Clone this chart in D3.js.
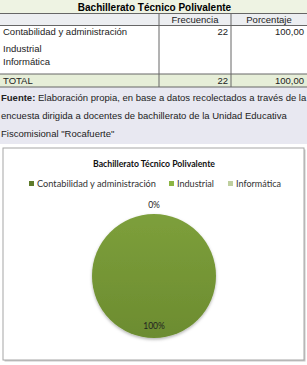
<!DOCTYPE html>
<html>
<head>
<meta charset="utf-8">
<script src="https://cdn.jsdelivr.net/npm/d3@7"></script>
<style>
  body { margin: 0; background: #fff; }
  svg { display: block; }
</style>
</head>
<body>
<svg id="chart"></svg>
<script>
const categories = ["Contabilidad y administración", "Industrial", "Informática"];
const frecuencia = [22, null, null];
const porcentaje = ["100,00", null, null];
const totalFrecuencia = 22;
const totalPorcentaje = "100,00";
const pieValues = [22, 0, 0];
const fuenteLines = [
    "Elaboración propia, en base a datos recolectados a través de la",
    "encuesta dirigida a docentes de bachillerato de la Unidad Educativa",
    "Fiscomisional \"Rocafuerte\""
];

const svgWidth = 307;
const svgHeight = 365;

const svg = d3.select("#chart")
    .attr("width", svgWidth)
    .attr("height", svgHeight)
    .style("font-family", "Liberation Sans, Arial, sans-serif");

// ---- table ----
const colX = [0, 159, 231, 307];
const lineColor = "#666";
const fs = "9.5px";
const t = svg.append("g");

t.append("rect").attr("x", 0).attr("y", 0).attr("width", svgWidth).attr("height", 13.5).attr("fill", "#eef3e3");
t.append("rect").attr("x", 0).attr("y", 13.5).attr("width", svgWidth).attr("height", 12).attr("fill", "#eceef1");
t.append("rect").attr("x", 0).attr("y", 74).attr("width", svgWidth).attr("height", 13).attr("fill", "#e6eed8");
t.append("rect").attr("x", 0).attr("y", 87).attr("width", svgWidth).attr("height", 57).attr("fill", "#e8e8f1");

t.append("text")
    .attr("x", svgWidth / 2 + 1).attr("y", 10.5)
    .attr("text-anchor", "middle")
    .style("font-size", "10px").style("font-weight", "bold")
    .text("Bachillerato Técnico Polivalente");

[13.5, 25.5, 74, 87].forEach(y => {
    t.append("line").attr("x1", 0).attr("x2", svgWidth).attr("y1", y).attr("y2", y)
        .attr("stroke", lineColor).attr("stroke-width", 1);
});
[colX[1], colX[2]].forEach(x => {
    t.append("line").attr("x1", x).attr("x2", x).attr("y1", 13.5).attr("y2", 87)
        .attr("stroke", lineColor).attr("stroke-width", 1);
});

t.append("text").attr("x", (colX[1] + colX[2]) / 2).attr("y", 23).attr("text-anchor", "middle")
    .style("font-size", fs).attr("fill", "#222").text("Frecuencia");
t.append("text").attr("x", (colX[2] + colX[3]) / 2).attr("y", 23).attr("text-anchor", "middle")
    .style("font-size", fs).attr("fill", "#222").text("Porcentaje");

const rowY = [35, 52, 65];
categories.forEach((c, i) => {
    t.append("text").attr("x", 3).attr("y", rowY[i]).style("font-size", fs).attr("fill", "#222").text(c);
    if (frecuencia[i] != null) {
        t.append("text").attr("x", colX[2] - 3).attr("y", rowY[i]).attr("text-anchor", "end")
            .style("font-size", fs).attr("fill", "#222").text(frecuencia[i]);
    }
    if (porcentaje[i] != null) {
        t.append("text").attr("x", colX[3] - 3).attr("y", rowY[i]).attr("text-anchor", "end")
            .style("font-size", fs).attr("fill", "#222").text(porcentaje[i]);
    }
});

t.append("text").attr("x", 3).attr("y", 84).style("font-size", fs).attr("fill", "#222").text("TOTAL");
t.append("text").attr("x", colX[2] - 3).attr("y", 84).attr("text-anchor", "end")
    .style("font-size", fs).attr("fill", "#222").text(totalFrecuencia);
t.append("text").attr("x", colX[3] - 3).attr("y", 84).attr("text-anchor", "end")
    .style("font-size", fs).attr("fill", "#222").text(totalPorcentaje);

const fuente = t.append("text").attr("x", 1).attr("y", 101).style("font-size", fs).attr("fill", "#222");
fuente.append("tspan").style("font-weight", "bold").text("Fuente: ");
fuente.append("tspan").text(fuenteLines[0]);
fuenteLines.slice(1).forEach((l, i) => {
    t.append("text").attr("x", 1).attr("y", 119 + i * 18).style("font-size", fs).attr("fill", "#222").text(l);
});

// ---- chart box ----
const box = { x: 3, y: 148, w: 301, h: 212 };
svg.append("rect").attr("x", box.x + 1.5).attr("y", box.y + 1.5).attr("width", box.w).attr("height", box.h)
    .attr("fill", "#c8c8c8");
svg.append("rect").attr("x", box.x).attr("y", box.y).attr("width", box.w).attr("height", box.h)
    .attr("fill", "#fff").attr("stroke", "#a6a6a6").attr("stroke-width", 1);

const chartFont = "Lato, Open Sans, sans-serif";
svg.append("text")
    .attr("x", 154).attr("y", 167)
    .attr("text-anchor", "middle")
    .attr("textLength", 122).attr("lengthAdjust", "spacingAndGlyphs")
    .style("font-family", chartFont)
    .style("font-size", "10px").style("font-weight", "bold")
    .attr("fill", "#111")
    .text("Bachillerato Técnico Polivalente");

const colorScale = d3.scaleOrdinal().domain(categories).range(["#5f7b2b", "#8cb543", "#bfcf9f"]);

const legendX = [29, 169, 228];
const legendW = [119, 37, 45];
const legend = svg.selectAll(".legend")
    .data(categories)
    .enter().append("g")
    .attr("class", "legend")
    .attr("transform", (d, i) => `translate(${legendX[i]},184)`);
legend.append("rect").attr("x", 0).attr("y", -3).attr("width", 5).attr("height", 5).attr("fill", colorScale);
legend.append("text").attr("x", 8).attr("y", 0).attr("dy", "0.35em")
    .attr("textLength", (d, i) => legendW[i]).attr("lengthAdjust", "spacingAndGlyphs")
    .style("font-family", chartFont).style("font-size", "9px").attr("fill", "#333")
    .text(d => d);

// ---- pie ----
const cx = 154, cy = 276, r = 62;
const defs = svg.append("defs");
const grad = defs.append("linearGradient").attr("id", "pieGrad").attr("x1", 0).attr("y1", 0).attr("x2", 0).attr("y2", 1);
grad.append("stop").attr("offset", "0%").attr("stop-color", "#7d9f3b");
grad.append("stop").attr("offset", "100%").attr("stop-color", "#6c8c30");
const shadow = defs.append("filter").attr("id", "pieShadow").attr("x", "-20%").attr("y", "-20%").attr("width", "140%").attr("height", "140%");
shadow.append("feDropShadow").attr("dx", 0).attr("dy", 1.5).attr("stdDeviation", 1.5).attr("flood-color", "#000").attr("flood-opacity", 0.3);

const pie = d3.pie().sort(null).value(d => d);
const arc = d3.arc().innerRadius(0).outerRadius(r);
const arcs = pie(pieValues);
const total = d3.sum(pieValues);

const pg = svg.append("g").attr("transform", `translate(${cx},${cy})`);
pg.selectAll("path")
    .data(arcs.filter(d => d.value > 0))
    .enter().append("path")
    .attr("d", arc)
    .attr("fill", "url(#pieGrad)")
    .attr("filter", "url(#pieShadow)");

// 100% label inside; the zero slices share one label spot above the top
const seen = new Set();
arcs.forEach(d => {
    const pct = Math.round(d.value / total * 100) + "%";
    let x, y;
    if (d.value > 0) {
        const mid = (d.startAngle + d.endAngle) / 2;
        x = Math.sin(mid) * r * 0.8; y = -Math.cos(mid) * r * 0.8;
    } else {
        x = Math.sin(d.startAngle) * (r + 9); y = -Math.cos(d.startAngle) * (r + 9);
    }
    const key = Math.round(x) + "," + Math.round(y);
    if (seen.has(key)) return;
    seen.add(key);
    pg.append("text")
        .attr("x", x).attr("y", y)
        .attr("dy", "0.35em").attr("text-anchor", "middle")
        .style("font-family", chartFont).style("font-size", "8.5px").attr("fill", "#222")
        .text(pct);
});
</script>
</body>
</html>
